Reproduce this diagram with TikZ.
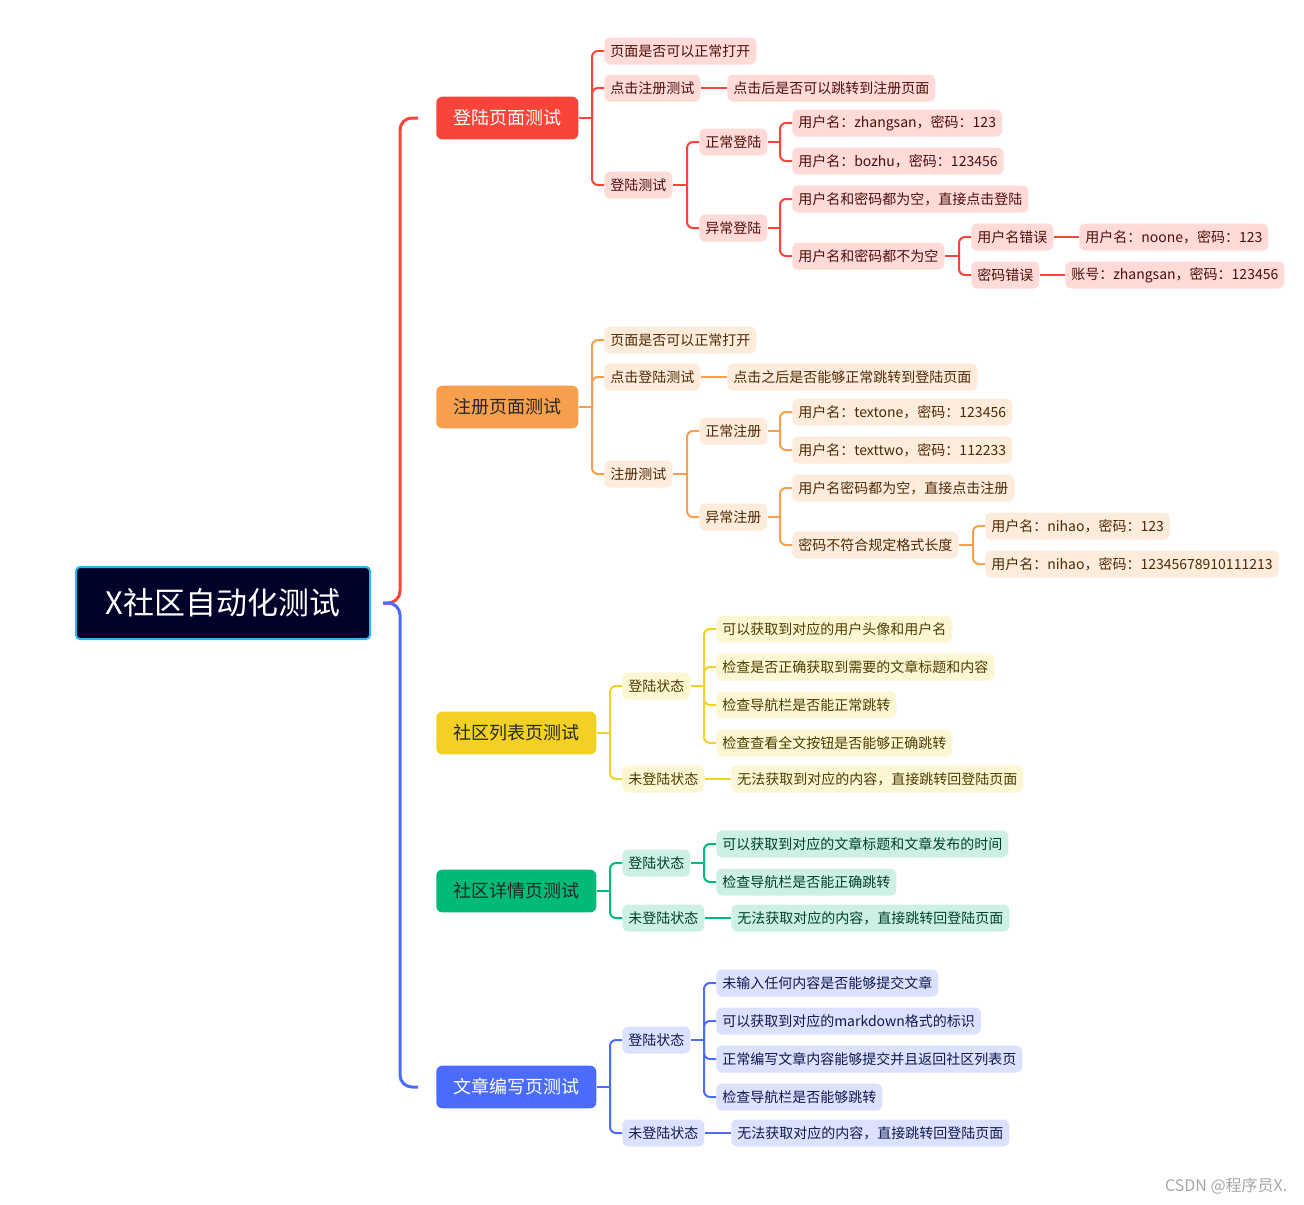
\documentclass[tikz,border=0pt]{standalone}
\usepackage{fontspec}
\usepackage{xcolor}
\newfontfamily\cjk{Noto Sans CJK SC}

\definecolor{rootbg}{HTML}{000229}
\definecolor{rootline}{HTML}{2BB5F5}
\definecolor{redmain}{HTML}{FA4339}
\definecolor{redsoft}{HTML}{FFDAD7}
\definecolor{redtext}{HTML}{4D0F0B}
\definecolor{orgmain}{HTML}{F6A04D}
\definecolor{orgsoft}{HTML}{FDEBDB}
\definecolor{orgtext}{HTML}{4D2A06}
\definecolor{ylwmain}{HTML}{F2D124}
\definecolor{ylwsoft}{HTML}{FDF6D3}
\definecolor{ylwtext}{HTML}{4A3D00}
\definecolor{grnmain}{HTML}{00BA78}
\definecolor{grnsoft}{HTML}{CCF1E4}
\definecolor{grntext}{HTML}{00402A}
\definecolor{blumain}{HTML}{4B6BFD}
\definecolor{blusoft}{HTML}{DBE1FF}
\definecolor{blutext}{HTML}{0D1A4D}

\tikzset{
  rootnode/.style={fill=rootbg, draw=rootline, line width=1.5pt, rounded corners=3pt,
    minimum width=220.5pt, minimum height=54pt, text=white, font=\cjk\fontsize{23.2}{27}\selectfont},
  topic/.style={anchor=west, rounded corners=4.5pt, minimum height=32pt, inner xsep=12.75pt,
    inner ysep=0pt, font=\cjk\fontsize{13.5}{16}\selectfont},
  leaf/.style={anchor=west, rounded corners=4.5pt, minimum height=20.25pt, inner xsep=4.5pt,
    inner ysep=0pt, font=\cjk\fontsize{10.5}{12}\selectfont},
  rleaf/.style={leaf, fill=redsoft, text=redtext},
  oleaf/.style={leaf, fill=orgsoft, text=orgtext},
  yleaf/.style={leaf, fill=ylwsoft, text=ylwtext},
  gleaf/.style={leaf, fill=grnsoft, text=grntext},
  bleaf/.style={leaf, fill=blusoft, text=blutext},
  link/.style={line width=1.5pt, rounded corners=4.5pt},
  rlink/.style={link, draw=redmain},
  olink/.style={link, draw=orgmain},
  ylink/.style={link, draw=ylwmain},
  glink/.style={link, draw=grnmain},
  blink/.style={link, draw=blumain},
  trunk/.style={line width=2.25pt, rounded corners=9pt},
}

\begin{document}
\begin{tikzpicture}[x=0.75pt,y=-0.75pt]

            \useasboundingbox (0,0) rectangle (1304,1204);

            % Root
            \node[rootnode] (root) at (223,603) {X社区自动化测试};

            % Main topics
            \node[topic, fill=redmain, text=white] (L) at (436,118) {登陆页面测试};
            \node[topic, fill=orgmain, text=black!85] (R) at (436,407) {注册页面测试};
            \node[topic, fill=ylwmain, text=black!85] (C) at (436,733) {社区列表页测试};
            \node[topic, fill=grnmain, text=black!85] (D) at (436,891) {社区详情页测试};
            \node[topic, fill=blumain, text=white] (W) at (436,1087) {文章编写页测试};

            \draw[trunk, draw=redmain] (root.east) ++(12,0) -| ([xshift=-27pt]L.west) -- ([xshift=-13.5pt]L.west); % Root to L
            \draw[trunk, draw=blumain] (root.east) ++(12,0) -| ([xshift=-27pt]W.west) -- ([xshift=-13.5pt]W.west); % Root to W

            % Login page
            \node[rleaf] (L1) at (604,51) {页面是否可以正常打开};
            \node[rleaf] (L2) at (604,88) {点击注册测试};
            \node[rleaf] (L21) at (727,88) {点击后是否可以跳转到注册页面};
            \node[rleaf] (L3) at (604,185) {登陆测试};
            \node[rleaf] (L31) at (699,142) {正常登陆};
            \node[rleaf] (L311) at (792,123) {用户名：zhangsan，密码：123};
            \node[rleaf] (L312) at (792,161) {用户名：bozhu，密码：123456};
            \node[rleaf] (L32) at (699,228) {异常登陆};
            \node[rleaf] (L321) at (792,199) {用户名和密码都为空，直接点击登陆};
            \node[rleaf] (L322) at (792,256) {用户名和密码都不为空};
            \node[rleaf] (L3221) at (971,237) {用户名错误};
            \node[rleaf] (L3221a) at (1079,237) {用户名：noone，密码：123};
            \node[rleaf] (L3222) at (971,275) {密码错误};
            \node[rleaf] (L3222a) at (1065,275) {账号：zhangsan，密码：123456};

            \draw[rlink] (L.east -| L1.west) ++(-12,0) -- (L.east); % stub L
            \draw[rlink] (L.east -| L1.west) ++(-12,0) |- (L1.west);
            \draw[rlink] (L.east -| L2.west) ++(-12,0) |- (L2.west);
            \draw[rlink] (L.east -| L3.west) ++(-12,0) |- (L3.west);
            \draw[rlink] (L2.east) -- (L21.west);
            \draw[rlink] (L3.east -| L31.west) ++(-12,0) -- (L3.east); % stub L3
            \draw[rlink] (L3.east -| L31.west) ++(-12,0) |- (L31.west);
            \draw[rlink] (L3.east -| L32.west) ++(-12,0) |- (L32.west);
            \draw[rlink] (L31.east -| L311.west) ++(-12,0) -- (L31.east); % stub L31
            \draw[rlink] (L31.east -| L311.west) ++(-12,0) |- (L311.west);
            \draw[rlink] (L31.east -| L312.west) ++(-12,0) |- (L312.west);
            \draw[rlink] (L32.east -| L321.west) ++(-12,0) -- (L32.east); % stub L32
            \draw[rlink] (L32.east -| L321.west) ++(-12,0) |- (L321.west);
            \draw[rlink] (L32.east -| L322.west) ++(-12,0) |- (L322.west);
            \draw[rlink] (L322.east -| L3221.west) ++(-12,0) -- (L322.east); % stub L322
            \draw[rlink] (L322.east -| L3221.west) ++(-12,0) |- (L3221.west);
            \draw[rlink] (L322.east -| L3222.west) ++(-12,0) |- (L3222.west);
            \draw[rlink] (L3221.east) -- (L3221a.west);
            \draw[rlink] (L3222.east) -- (L3222a.west);

            % Register page
            \node[oleaf] (R1) at (604,340) {页面是否可以正常打开};
            \node[oleaf] (R2) at (604,377) {点击登陆测试};
            \node[oleaf] (R21) at (727,377) {点击之后是否能够正常跳转到登陆页面};
            \node[oleaf] (R3) at (604,474) {注册测试};
            \node[oleaf] (R31) at (699,431) {正常注册};
            \node[oleaf] (R311) at (792,412) {用户名：textone，密码：123456};
            \node[oleaf] (R312) at (792,450) {用户名：texttwo，密码：112233};
            \node[oleaf] (R32) at (699,517) {异常注册};
            \node[oleaf] (R321) at (792,488) {用户名密码都为空，直接点击注册};
            \node[oleaf] (R322) at (792,545) {密码不符合规定格式长度};
            \node[oleaf] (R3221) at (985,526) {用户名：nihao，密码：123};
            \node[oleaf] (R3222) at (985,564) {用户名：nihao，密码：12345678910111213};

            \draw[olink] (R.east -| R1.west) ++(-12,0) -- (R.east); % stub R
            \draw[olink] (R.east -| R1.west) ++(-12,0) |- (R1.west);
            \draw[olink] (R.east -| R2.west) ++(-12,0) |- (R2.west);
            \draw[olink] (R.east -| R3.west) ++(-12,0) |- (R3.west);
            \draw[olink] (R2.east) -- (R21.west);
            \draw[olink] (R3.east -| R31.west) ++(-12,0) -- (R3.east); % stub R3
            \draw[olink] (R3.east -| R31.west) ++(-12,0) |- (R31.west);
            \draw[olink] (R3.east -| R32.west) ++(-12,0) |- (R32.west);
            \draw[olink] (R31.east -| R311.west) ++(-12,0) -- (R31.east); % stub R31
            \draw[olink] (R31.east -| R311.west) ++(-12,0) |- (R311.west);
            \draw[olink] (R31.east -| R312.west) ++(-12,0) |- (R312.west);
            \draw[olink] (R32.east -| R321.west) ++(-12,0) -- (R32.east); % stub R32
            \draw[olink] (R32.east -| R321.west) ++(-12,0) |- (R321.west);
            \draw[olink] (R32.east -| R322.west) ++(-12,0) |- (R322.west);
            \draw[olink] (R322.east -| R3221.west) ++(-12,0) -- (R322.east); % stub R322
            \draw[olink] (R322.east -| R3221.west) ++(-12,0) |- (R3221.west);
            \draw[olink] (R322.east -| R3222.west) ++(-12,0) |- (R3222.west);

            % Community list page
            \node[yleaf] (C1) at (622,686) {登陆状态};
            \node[yleaf] (C11) at (716,629) {可以获取到对应的用户头像和用户名};
            \node[yleaf] (C12) at (716,667) {检查是否正确获取到需要的文章标题和内容};
            \node[yleaf] (C13) at (716,705) {检查导航栏是否能正常跳转};
            \node[yleaf] (C14) at (716,743) {检查查看全文按钮是否能够正确跳转};
            \node[yleaf] (C2) at (622,779) {未登陆状态};
            \node[yleaf] (C21) at (731,779) {无法获取到对应的内容，直接跳转回登陆页面};

            \draw[ylink] (C.east -| C1.west) ++(-12,0) -- (C.east); % stub C
            \draw[ylink] (C.east -| C1.west) ++(-12,0) |- (C1.west);
            \draw[ylink] (C.east -| C2.west) ++(-12,0) |- (C2.west);
            \draw[ylink] (C1.east -| C11.west) ++(-12,0) -- (C1.east); % stub C1
            \draw[ylink] (C1.east -| C11.west) ++(-12,0) |- (C11.west);
            \draw[ylink] (C1.east -| C12.west) ++(-12,0) |- (C12.west);
            \draw[ylink] (C1.east -| C13.west) ++(-12,0) |- (C13.west);
            \draw[ylink] (C1.east -| C14.west) ++(-12,0) |- (C14.west);
            \draw[ylink] (C2.east) -- (C21.west);

            % Community detail page
            \node[gleaf] (D1) at (622,863) {登陆状态};
            \node[gleaf] (D11) at (716,844) {可以获取到对应的文章标题和文章发布的时间};
            \node[gleaf] (D12) at (716,882) {检查导航栏是否能正确跳转};
            \node[gleaf] (D2) at (622,918) {未登陆状态};
            \node[gleaf] (D21) at (731,918) {无法获取对应的内容，直接跳转回登陆页面};

            \draw[glink] (D.east -| D1.west) ++(-12,0) -- (D.east); % stub D
            \draw[glink] (D.east -| D1.west) ++(-12,0) |- (D1.west);
            \draw[glink] (D.east -| D2.west) ++(-12,0) |- (D2.west);
            \draw[glink] (D1.east -| D11.west) ++(-12,0) -- (D1.east); % stub D1
            \draw[glink] (D1.east -| D11.west) ++(-12,0) |- (D11.west);
            \draw[glink] (D1.east -| D12.west) ++(-12,0) |- (D12.west);
            \draw[glink] (D2.east) -- (D21.west);

            % Article editor page
            \node[bleaf] (W1) at (622,1040) {登陆状态};
            \node[bleaf] (W11) at (716,983) {未输入任何内容是否能够提交文章};
            \node[bleaf] (W12) at (716,1021) {可以获取到对应的markdown格式的标识};
            \node[bleaf] (W13) at (716,1059) {正常编写文章内容能够提交并且返回社区列表页};
            \node[bleaf] (W14) at (716,1097) {检查导航栏是否能够跳转};
            \node[bleaf] (W2) at (622,1133) {未登陆状态};
            \node[bleaf] (W21) at (731,1133) {无法获取对应的内容，直接跳转回登陆页面};

            \draw[blink] (W.east -| W1.west) ++(-12,0) -- (W.east); % stub W
            \draw[blink] (W.east -| W1.west) ++(-12,0) |- (W1.west);
            \draw[blink] (W.east -| W2.west) ++(-12,0) |- (W2.west);
            \draw[blink] (W1.east -| W11.west) ++(-12,0) -- (W1.east); % stub W1
            \draw[blink] (W1.east -| W11.west) ++(-12,0) |- (W11.west);
            \draw[blink] (W1.east -| W12.west) ++(-12,0) |- (W12.west);
            \draw[blink] (W1.east -| W13.west) ++(-12,0) |- (W13.west);
            \draw[blink] (W1.east -| W14.west) ++(-12,0) |- (W14.west);
            \draw[blink] (W2.east) -- (W21.west);

            % Watermark
            \node[anchor=east, text=black!35, font=\cjk\fontsize{12}{14}\selectfont] (mark) at (1292,1186) {CSDN @程序员X.};

\end{tikzpicture}
\end{document}
